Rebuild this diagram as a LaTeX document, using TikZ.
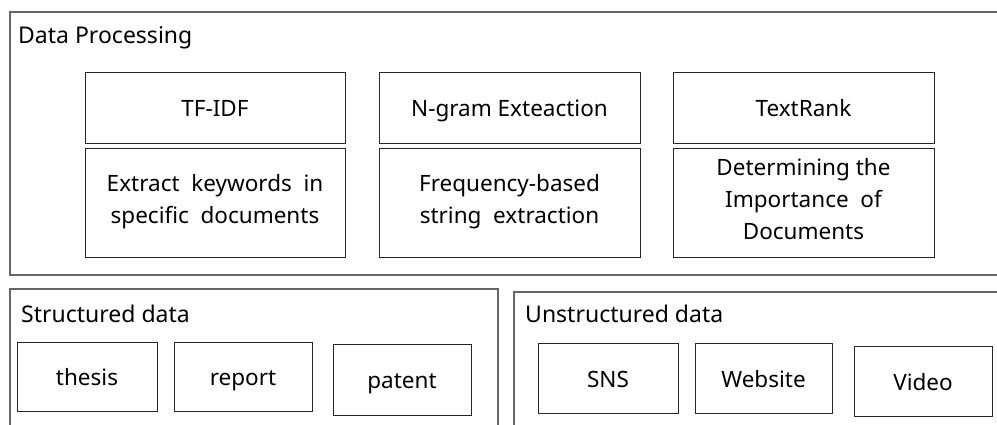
\documentclass[tikz,border=0pt]{standalone}
\usepackage{fontspec}
\setmainfont{Noto Sans}
\newcommand\mystrut{\vrule height25pt depth7pt width0pt\relax}
\begin{document}
\begin{tikzpicture}[x=1pt,y=-1pt,
  outer/.style={draw=black!60,line width=1.2pt},
  box/.style={draw=black!85,line width=1pt,inner sep=0pt,align=center,
    font=\fontsize{22.5}{32}\selectfont,
    execute at begin node=\mystrut, execute at end node=\mystrut},
  lbl/.style={anchor=west,inner sep=0pt,font=\fontsize{23}{28}\selectfont,
    execute at begin node=\mystrut}]
\useasboundingbox (0,0) rectangle (997,424);
\clip (0,0) rectangle (997,424);
% containers
\draw[outer] (1010,12) -- (10,12) -- (10,275) -- (1010,275);
\draw[outer] (498,430) -- (498,289) -- (10,289) -- (10,430);
\draw[outer] (1010,292) -- (514,292) -- (514,430);
\node[lbl] (dp) at (18,34.5) {Data Processing};
\node[lbl] (sd) at (21,313.5) {Structured data};
\node[lbl] (ud) at (525,313.5) {Unstructured data};
% data processing
\node[box,minimum width=260,minimum height=71] (tfidf) at (215,107.5) {TF-IDF};
\node[box,minimum width=260,minimum height=109] (tfidfd) at (215,202.5) {Extract~ keywords~ in\\specific~ documents};
\node[box,minimum width=261,minimum height=71] (ngram) at (509.5,107.5) {N-gram Exteaction};
\node[box,minimum width=261,minimum height=109] (ngramd) at (509.5,202.5) {Frequency-based\\string~ extraction};
\node[box,minimum width=261,minimum height=71] (tr) at (803.5,107.5) {TextRank};
\node[box,minimum width=261,minimum height=109] (trd) at (803.5,202.5) {Determining the\\Importance~ of\\Documents};
% structured
\node[box,minimum width=140,minimum height=69] (thesis) at (87,376.5) {thesis};
\node[box,minimum width=138,minimum height=69] (report) at (243,376.5) {report};
\node[box,minimum width=138,minimum height=71] (patent) at (402,379.5) {patent};
% unstructured
\node[box,minimum width=140,minimum height=70] (sns) at (608,378) {SNS};
\node[box,minimum width=137,minimum height=70] (web) at (763.5,378) {Website};
\node[box,minimum width=138,minimum height=70] (video) at (923,381) {Video};
\end{tikzpicture}
\end{document}
